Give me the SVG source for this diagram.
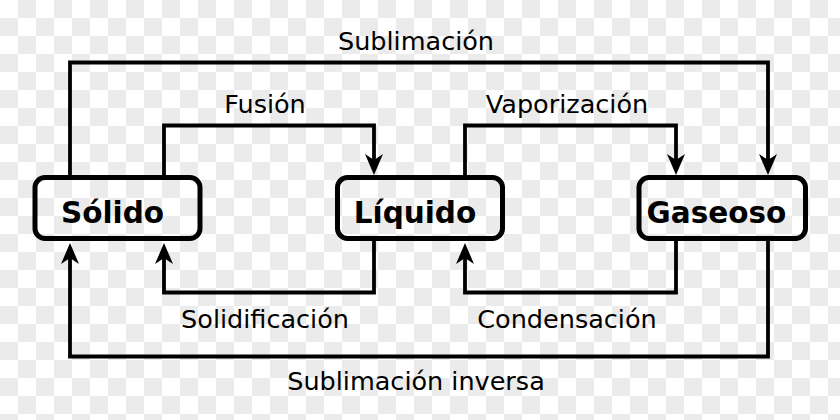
<svg xmlns="http://www.w3.org/2000/svg" width="840" height="420" viewBox="0 0 840 420">
  <defs>
    <pattern id="checker" x="0" y="0" width="36" height="36" patternUnits="userSpaceOnUse">
      <rect width="36" height="36" fill="#ffffff"/>
      <rect x="18" y="0" width="18" height="18" fill="#ebebeb"/>
      <rect x="0" y="18" width="18" height="18" fill="#ebebeb"/>
    </pattern>
    <marker id="arrow" markerUnits="userSpaceOnUse" markerWidth="24" markerHeight="20" viewBox="-8 -10 24 20" refX="0" refY="0" orient="auto" overflow="visible">
      <path d="M 15 0 L -6 -9 L 0 0 L -6 9 Z" fill="#000"/>
    </marker>
    <style>
      .box { fill: none; stroke: #000; stroke-width: 5; }
      .node-label { font-family: "DejaVu Sans", "Liberation Sans", sans-serif; font-weight: bold; font-size: 29.5px; fill: #000; text-anchor: middle; }
      .edge { fill: none; stroke: #000; stroke-width: 3.8; stroke-linejoin: miter; }
      .edge-arrow { marker-end: url(#arrow); }
      .edge-label { font-family: "DejaVu Sans", "Liberation Sans", sans-serif; font-size: 25.5px; fill: #000; text-anchor: middle; }
    </style>
  </defs>

  <rect width="840" height="420" fill="url(#checker)"/>

  <g id="connectors">
    <g id="sublimacion">
      <path class="edge edge-arrow" d="M 70 177.5 V 62.5 H 768 V 160"/>
      <text class="edge-label" x="416" y="50">Sublimación</text>
    </g>
    <g id="fusion">
      <path class="edge edge-arrow" d="M 164 177.5 V 125.5 H 374 V 160"/>
      <text class="edge-label" x="265" y="113">Fusión</text>
    </g>
    <g id="vaporizacion">
      <path class="edge edge-arrow" d="M 465 177.5 V 125.5 H 676 V 160"/>
      <text class="edge-label" x="567" y="113">Vaporización</text>
    </g>
    <g id="solidificacion">
      <path class="edge edge-arrow" d="M 374 238.5 V 292.5 H 164 V 258"/>
      <text class="edge-label" x="265" y="328">Solidificación</text>
    </g>
    <g id="condensacion">
      <path class="edge edge-arrow" d="M 676 238.5 V 292.5 H 465 V 258"/>
      <text class="edge-label" x="567" y="328">Condensación</text>
    </g>
    <g id="sublimacion-inversa">
      <path class="edge edge-arrow" d="M 768 238.5 V 356.5 H 70 V 258"/>
      <text class="edge-label" x="416" y="390">Sublimación inversa</text>
    </g>
  </g>

  <g id="solido">
    <rect class="box" x="35" y="177.5" width="165" height="61" rx="10" ry="10"/>
    <text class="node-label" x="112.5" y="223">Sólido</text>
  </g>
  <g id="liquido">
    <rect class="box" x="337.5" y="177.5" width="165" height="61" rx="10" ry="10"/>
    <text class="node-label" x="415" y="223">Líquido</text>
  </g>
  <g id="gaseoso">
    <rect class="box" x="639" y="177.5" width="166.5" height="61" rx="10" ry="10"/>
    <text class="node-label" x="716.5" y="223">Gaseoso</text>
  </g>
</svg>
